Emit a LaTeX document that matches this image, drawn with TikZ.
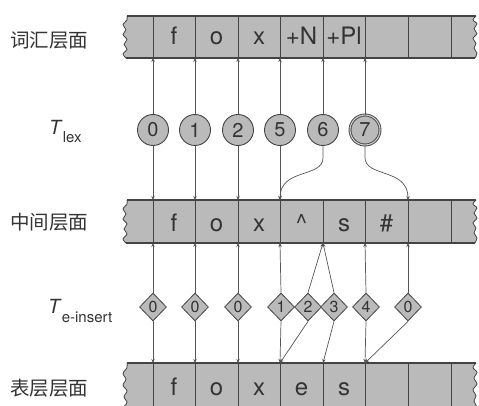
\documentclass[tikz,border=0pt]{standalone}
\usepackage{fontspec}
\setmainfont{TeX Gyre Heros}
\newfontfamily\cjk{Noto Sans CJK SC}
\usetikzlibrary{shapes.geometric,arrows.meta}

\definecolor{tapefill}{HTML}{BABABA}
\definecolor{ink}{HTML}{444444}
\definecolor{wire}{HTML}{555555}
\definecolor{txt}{HTML}{333333}

% a tape with torn (wavy) ends; #1 = top edge y, #2 = height
\newcommand\drawtape[2]{%
  \begin{scope}[shift={(0,#1)},yscale=#2/43]
    \fill[tapefill] (127,0) -- (476,0)
      -- plot[smooth] coordinates {(476,0) (473,4) (477,8) (474,13) (477,18) (473,23) (476,28) (474,33) (477,38) (475,43)}
      -- (126,43)
      -- plot[smooth] coordinates {(126,43) (123,39) (127,34) (124,29) (127,24) (123,19) (126,14) (123,9) (127,4) (127,0)}
      -- cycle;
    \draw[ink,line width=0.8pt] plot[smooth] coordinates {(476,0) (473,4) (477,8) (474,13) (477,18) (473,23) (476,28) (474,33) (477,38) (475,43)};
    \draw[ink,line width=0.8pt] plot[smooth] coordinates {(126,43) (123,39) (127,34) (124,29) (127,24) (123,19) (126,14) (123,9) (127,4) (127,0)};
    \draw[ink,line width=1.2pt] (127,0) -- (476,0);
    \draw[ink,line width=1.2pt] (126,43) -- (475,43);
    \foreach \x in {153,195,238,280,323,365,408,451}
      \draw[ink,line width=0.8pt] (\x,0) -- (\x,43);
  \end{scope}}

\begin{document}
\begin{tikzpicture}[x=1pt,y=-1pt,
  wireline/.style={draw=wire,line width=0.7pt,-{Stealth[length=4pt,width=3.4pt]}},
  state/.style={circle,draw=ink,line width=0.9pt,fill=tapefill,minimum size=31pt,inner sep=0pt,
    font=\fontsize{20}{20}\selectfont,text=txt},
  final/.style={state,double=white!80!black,double distance=1.1pt,minimum size=30pt},
  insrt/.style={diamond,draw=ink,line width=0.8pt,fill=tapefill,minimum width=27pt,minimum height=28pt,
    inner sep=0pt,font=\fontsize{16}{16}\selectfont,text=txt},
  cell/.style={anchor=base,font=\fontsize{24}{24}\selectfont,text=txt,inner sep=0pt},
  level/.style={font=\cjk\fontsize{19.5}{19.5}\selectfont,text=txt,inner sep=0pt},
  tname/.style={anchor=base west,inner sep=0pt,text=txt}
]
\useasboundingbox (0,0) rectangle (479,406);
\clip (0,0) rectangle (479,406);
\fill[white] (0,0) rectangle (479,406);

% three tapes
\drawtape{16}{42}
\drawtape{200}{43}
\drawtape{363}{50}

% tape contents
\node[cell] (lf) at (174,45) {f};
\node[cell] (lo) at (216.5,45) {o};
\node[cell] (lx) at (259,45) {x};
\node[cell] (lN) at (301.5,45) {+N};
\node[cell] (lP) at (344,45) {+Pl};

\node[cell] (mf) at (174,231) {f};
\node[cell] (mo) at (216.5,231) {o};
\node[cell] (mx) at (259,231) {x};
\node[cell] (mc) at (301.5,231) {\textasciicircum};
\node[cell] (ms) at (344,231) {s};
\node[cell] (mh) at (386.5,231) {\#};

\node[cell] (sf) at (174,395) {f};
\node[cell] (so) at (216.5,395) {o};
\node[cell] (sx) at (259,395) {x};
\node[cell] (se) at (301.5,395) {e};
\node[cell] (ss) at (344,395) {s};

% level names
\node[level] (lexlab) at (49,40) {词汇层面};
\node[level] (midlab) at (49,222) {中间层面};
\node[level] (surlab) at (49,388) {表层层面};
\node[tname] (tlex) at (49,135) {\fontsize{19.5}{19.5}\selectfont\itshape T\/\raisebox{-8pt}{\fontsize{15}{15}\selectfont\upshape lex}};
\node[tname] (tins) at (48,313) {\fontsize{19.5}{19.5}\selectfont\itshape T\/\raisebox{-9pt}{\fontsize{15}{15}\selectfont\upshape e-insert}};

% attachment points on the tape edges
\foreach \i/\x in {1/153,2/195,3/238,4/280,5/323,6/365,7/408} {
  \coordinate (ub\i) at (\x,58);
  \coordinate (mt\i) at (\x,200);
  \coordinate (mb\i) at (\x,243);
  \coordinate (bt\i) at (\x,363);
}

% lexicon transducer states
\node[state] (c0) at (153,130) {0};
\node[state] (c1) at (195,130) {1};
\node[state] (c2) at (238,130) {2};
\node[state] (c5) at (280,130) {5};
\node[state] (c6) at (323,130) {6};
\node[final] (c7) at (365,130) {7};

\draw[wireline] (c0) -- (ub1);
\draw[wireline] (c1) -- (ub2);
\draw[wireline] (c2) -- (ub3);
\draw[wireline] (c5) -- (ub4);
\draw[wireline] (c6) -- (ub5);
\draw[wireline] (c7) -- (ub6);

\draw[wireline] (c0) -- (mt1);
\draw[wireline] (c1) -- (mt2);
\draw[wireline] (c2) -- (mt3);
\draw[wireline] (c5) -- (mt4);
\draw[wireline] (c6.south) -- ++(0,12) .. controls +(0,20) and +(0,-32) .. (mt4);
\draw[wireline] (c7.south) -- ++(0,12) .. controls +(0,20) and +(0,-32) .. (mt7);

% e-insertion transducer states
\node[insrt] (e1) at (153,307) {0};
\node[insrt] (e2) at (195,307) {0};
\node[insrt] (e3) at (238,307) {0};
\node[insrt] (e4) at (281,307) {1};
\node[insrt] (e5) at (308,307) {2};
\node[insrt] (e6) at (334,307) {3};
\node[insrt] (e7) at (366,307) {4};
\node[insrt] (e8) at (408,307) {0};

\draw[wireline] (e1) -- (mb1);
\draw[wireline] (e2) -- (mb2);
\draw[wireline] (e3) -- (mb3);
\draw[wireline] (e4.north) -- (mb4);
\draw[wireline] (e5.north) -- (mb5);
\draw[wireline] (e6.north) -- (mb5);
\draw[wireline] (e7.north) -- (mb6);
\draw[wireline] (e8.north) -- (mb7);

\draw[wireline] (e1) -- (bt1);
\draw[wireline] (e2) -- (bt2);
\draw[wireline] (e3) -- (bt3);
\draw[wireline] (e4.south) -- (bt4);
\draw[wireline] (e5.south) -- (bt4);
\draw[wireline] (e6.south) -- (bt5);
\draw[wireline] (e7.south) -- (bt6);
\draw[wireline] (e8.south) -- (bt6);
\end{tikzpicture}
\end{document}
